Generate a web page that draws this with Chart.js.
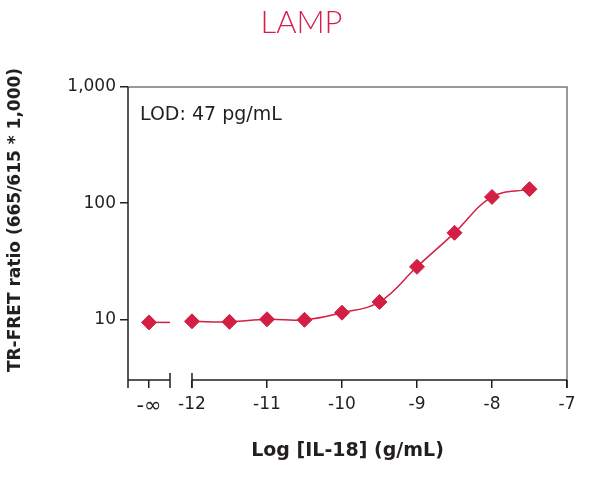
<!DOCTYPE html>
<html>
<head>
<meta charset="utf-8">
<script src="https://cdn.jsdelivr.net/npm/chart.js@4"></script>
<style>
  html, body { margin: 0; padding: 0; background: #fff; }
  #wrap { width: 603px; height: 478px; }
</style>
</head>
<body>
<div id="wrap"><canvas id="lampChart"></canvas></div>
<script>
// data
const logConc = [-12, -11.5, -11, -10.5, -10, -9.5, -9, -8.5, -8, -7.5];
const ratio = [9.6, 9.5, 10.0, 9.9, 11.4, 14.1, 28.3, 55.5, 113, 132];
const blankRatio = 9.4;          // the "-inf" (no analyte) point
const xTicks = [-12, -11, -10, -9, -8, -7];
const yTicks = [10, 100, 1000];
const yLabels = ['10', '100', '1,000'];

// axis layout: where -inf sits and where the axis is broken
const X_MIN = -12.853, X_MAX = -7;
const NEG_INF_POS = -12.573;
const BREAK_START = -12.293;

const RED = '#d31f44';
const INK = '#231f20';

const framePlugin = {
  id: 'frame',
  afterDraw(chart) {
    const {ctx, chartArea: a, scales: {x}} = chart;
    const b0 = x.getPixelForValue(BREAK_START);
    const b1 = x.getPixelForValue(xTicks[0]);
    ctx.save();
    ctx.lineWidth = 1.5;
    // top + right border, grey
    ctx.strokeStyle = '#77787b';
    ctx.beginPath();
    ctx.moveTo(a.left, a.top);
    ctx.lineTo(a.right, a.top);
    ctx.lineTo(a.right, a.bottom);
    ctx.stroke();
    // left axis and broken bottom axis
    ctx.strokeStyle = INK;
    ctx.beginPath();
    ctx.moveTo(a.left, a.top);
    ctx.lineTo(a.left, a.bottom + 8);
    ctx.moveTo(a.left, a.bottom);
    ctx.lineTo(b0, a.bottom);
    ctx.moveTo(b1, a.bottom);
    ctx.lineTo(a.right, a.bottom);
    ctx.moveTo(b0, a.bottom - 7);
    ctx.lineTo(b0, a.bottom + 8);
    ctx.moveTo(b1, a.bottom - 7);
    ctx.lineTo(b1, a.bottom + 8);
    ctx.moveTo(a.right, a.bottom);
    ctx.lineTo(a.right, a.bottom + 8);
    ctx.stroke();
    // LOD note
    ctx.fillStyle = INK;
    ctx.font = '19px "DejaVu Sans"';
    ctx.textBaseline = 'middle';
    ctx.fillText('LOD: 47 pg/mL', a.left + 12, a.top + 28);
    // y axis title (sits a little above the plot centre in the original)
    ctx.translate(16, a.top + 133);
    ctx.rotate(-Math.PI / 2);
    ctx.textAlign = 'center';
    ctx.font = 'bold 17px "DejaVu Sans"';
    ctx.fillText('TR-FRET ratio (665/615 * 1,000)', 0, 0);
    ctx.restore();
  }
};

new Chart(document.getElementById('lampChart'), {
  type: 'line',
  data: {
    datasets: [
      {
        data: logConc.map((v, i) => ({x: v, y: ratio[i]})),
        borderColor: RED,
        backgroundColor: RED,
        borderWidth: 1.5,
        tension: 0.4,
        pointStyle: 'rectRot',
        pointRadius: 7.5,
        pointBorderWidth: 1
      },
      {
        data: [{x: NEG_INF_POS, y: blankRatio}, {x: BREAK_START, y: blankRatio}],
        borderColor: RED,
        backgroundColor: RED,
        borderWidth: 1.5,
        pointStyle: 'rectRot',
        pointRadius: [7.5, 0],
        pointBorderWidth: 1
      }
    ]
  },
  options: {
    responsive: true,
    maintainAspectRatio: false,
    animation: false,
    layout: { padding: 0 },
    plugins: {
      legend: { display: false },
      tooltip: { enabled: false },
      title: {
        display: true,
        text: 'LAMP',
        color: '#d41f48',
        font: { family: 'Lato', size: 31, weight: '300', lineHeight: 1.2 },
        padding: { top: 4, bottom: 45.8 }
      }
    },
    scales: {
      x: {
        type: 'linear',
        min: X_MIN,
        max: X_MAX,
        afterFit(s) { s.height = 98; },
        afterBuildTicks(s) {
          s.ticks = [NEG_INF_POS].concat(xTicks).map(v => ({value: v}));
        },
        border: { display: false },
        grid: { drawOnChartArea: false, drawTicks: true, tickLength: 8, color: INK, lineWidth: 1.5 },
        ticks: {
          color: INK,
          padding: 6,
          maxRotation: 0,
          font: c => ({ family: 'DejaVu Sans', size: c.tick && c.tick.value === NEG_INF_POS ? 21 : 17 }),
          callback: v => (v === NEG_INF_POS ? '-\u221E' : String(v))
        },
        title: {
          display: true,
          text: 'Log [IL-18] (g/mL)',
          color: INK,
          font: { family: 'DejaVu Sans', size: 19, weight: 'bold', lineHeight: 1.2 },
          padding: { top: 0, bottom: 15.6 }
        }
      },
      y: {
        type: 'logarithmic',
        min: 3,
        max: 1000,
        afterFit(s) { s.width = 128; },
        afterBuildTicks(s) {
          s.ticks = yTicks.map(v => ({value: v}));
        },
        border: { display: false },
        grid: { drawOnChartArea: false, drawTicks: true, tickLength: 8, color: INK, lineWidth: 1.5 },
        ticks: {
          color: INK,
          padding: 4,
          font: { family: 'DejaVu Sans', size: 17 },
          callback: v => yLabels[yTicks.indexOf(v)] || ''
        }
      },
      // empty right-hand strip so the title centres on the whole canvas
      yRight: {
        type: 'linear',
        position: 'right',
        afterFit(s) { s.width = 36; },
        border: { display: false },
        grid: { display: false },
        ticks: { display: false }
      }
    }
  },
  plugins: [framePlugin]
});
</script>
</body>
</html>
